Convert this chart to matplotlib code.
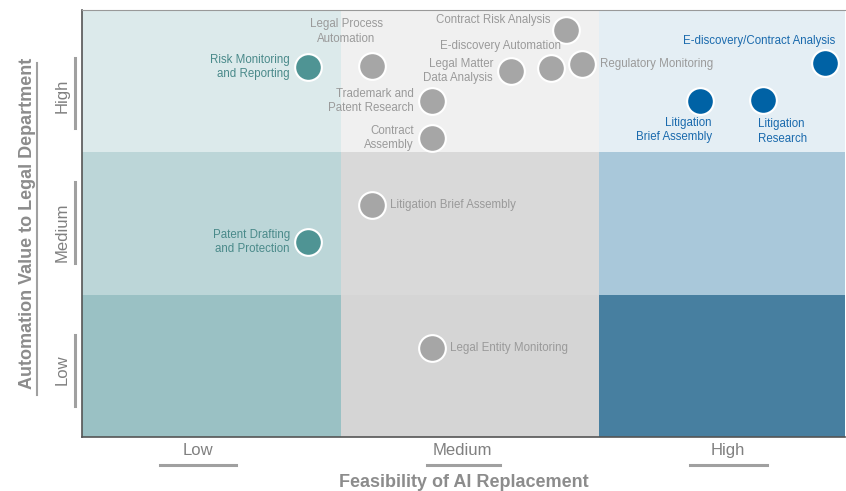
import matplotlib.pyplot as plt
from matplotlib.patches import Rectangle

plt.rcParams['font.family'] = ['Liberation Sans', 'DejaVu Sans']
narrow = ['Liberation Sans Narrow', 'Liberation Sans', 'DejaVu Sans']

# feasibility (x) and value (y) levels, 0..3 scale
levels = ["Low", "Medium", "High"]

cell_colors = [  # rows bottom->top, cols left->right
    ["#9ac1c4", "#d5d5d5", "#477fa0"],
    ["#bcd6d8", "#d9d9d9", "#a9c8da"],
    ["#dceaeb", "#f0f0f0", "#e4eef4"],
]

names = ["Risk Monitoring\nand Reporting", "Legal Process\nAutomation", "Contract Risk Analysis",
         "E-discovery Automation", "Legal Matter\nData Analysis", "Regulatory Monitoring",
         "Trademark and\nPatent Research", "Contract\nAssembly", "Litigation Brief Assembly",
         "Patent Drafting\nand Protection", "Legal Entity Monitoring",
         "E-discovery/Contract Analysis", "Litigation\nBrief Assembly", "Litigation\nResearch"]
feas = [0.874, 1.122, 1.872, 1.814, 1.66, 1.934, 1.354, 1.354, 1.122, 0.874, 1.354, 2.874, 2.391, 2.634]
value = [2.60, 2.607, 2.86, 2.593, 2.572, 2.62, 2.361, 2.10, 1.63, 1.37, 0.625, 2.628, 2.361, 2.368]
group = ["t", "g", "g", "g", "g", "g", "g", "g", "g", "t", "g", "b", "b", "b"]
place = ["l", "a", "lu", "al", "l", "r", "l", "l", "r", "l", "rn", "al", "bl", "br"]

dot_col = {"t": "#4f9494", "g": "#a6a6a6", "b": "#0062a5"}
txt_col = {"t": "#4a8a8a", "g": "#9a9a9a", "b": "#1a6aad"}

fig = plt.figure(figsize=(8.46, 4.91), dpi=100)
ax = fig.add_axes([82/846, 54/491, 763/846, 427/491])
xmax = 763/258.5
ax.set_xlim(0, xmax)
ax.set_ylim(0, 3)

for r in range(3):
    for c in range(3):
        ax.add_patch(Rectangle((c, r), 1, 1, facecolor=cell_colors[r][c], edgecolor="none", zorder=0))

for i in range(len(names)):
    x, y, g = feas[i], value[i], group[i]
    ax.scatter(x, y, s=370, color=dot_col[g], edgecolor="white", linewidth=1.5, zorder=3)
    p = place[i]
    kw = dict(color=txt_col[g], fontsize=8.3, zorder=4, linespacing=1.3)
    if p == "l":
        ax.text(x - 0.07, y, names[i], ha="right", va="center", multialignment="right", **kw)
    elif p == "lu":
        ax.text(x - 0.06, y + 0.07, names[i], ha="right", va="center", **kw)
    elif p == "r":
        ax.text(x + 0.07, y, names[i], ha="left", va="center", **kw)
    elif p == "rn":
        ax.text(x + 0.07, y, names[i], ha="left", va="center", family=narrow, **kw)
    elif p == "a":
        ax.text(x - 0.1, y + 0.15, names[i], ha="center", va="bottom", **kw)
    elif p == "al":
        ax.text(x + 0.04, y + 0.11, names[i], ha="right", va="bottom", **kw)
    elif p == "bl":
        ax.text(x + 0.046, y - 0.11, names[i], ha="right", va="top", multialignment="right", **kw)
    elif p == "br":
        ax.text(x - 0.02, y - 0.13, names[i], ha="left", va="top", **kw)

for s in ["left", "bottom"]:
    ax.spines[s].set_color("#555555")
    ax.spines[s].set_linewidth(1.2)
ax.spines["top"].set_color("#999999")
ax.spines["top"].set_linewidth(0.8)
ax.spines["right"].set_visible(False)

ax.set_xticks([0.45, 1.47, 2.5])
ax.set_xticklabels(levels, fontsize=12, color="#808080", family=narrow)
ax.set_yticks([0.47, 1.44, 2.40])
ax.set_yticklabels(levels, fontsize=12, color="#808080", rotation=90, va="center", family=narrow)
ax.tick_params(axis="x", length=0, pad=4)
ax.tick_params(axis="y", length=0, pad=9)

lc = "#a0a0a0"
# underline marks for the level labels
for x0, x1 in [(0.30, 0.594), (1.334, 1.617), (2.352, 2.65)]:
    ax.plot([x0, x1], [-0.197, -0.197], color=lc, lw=2.2, clip_on=False)
for y0, y1 in [(2.17, 2.66), (1.22, 1.79), (0.22, 0.72)]:
    ax.plot([-0.027, -0.027], [y0, y1], color=lc, lw=2.2, clip_on=False)
ax.plot([-0.174, -0.174], [0.295, 2.627], color=lc, lw=1.5, clip_on=False)

fig.text(0.548, 0.018, "Feasibility of AI Replacement", ha="center", va="center",
         fontsize=13, fontweight="bold", color="#8c8c8c", family=narrow)
fig.text(0.032, 0.545, "Automation Value to Legal Department", ha="center", va="center",
         rotation=90, fontsize=13, fontweight="bold", color="#8c8c8c", family=narrow)

fig.savefig("out.png", dpi=100)
